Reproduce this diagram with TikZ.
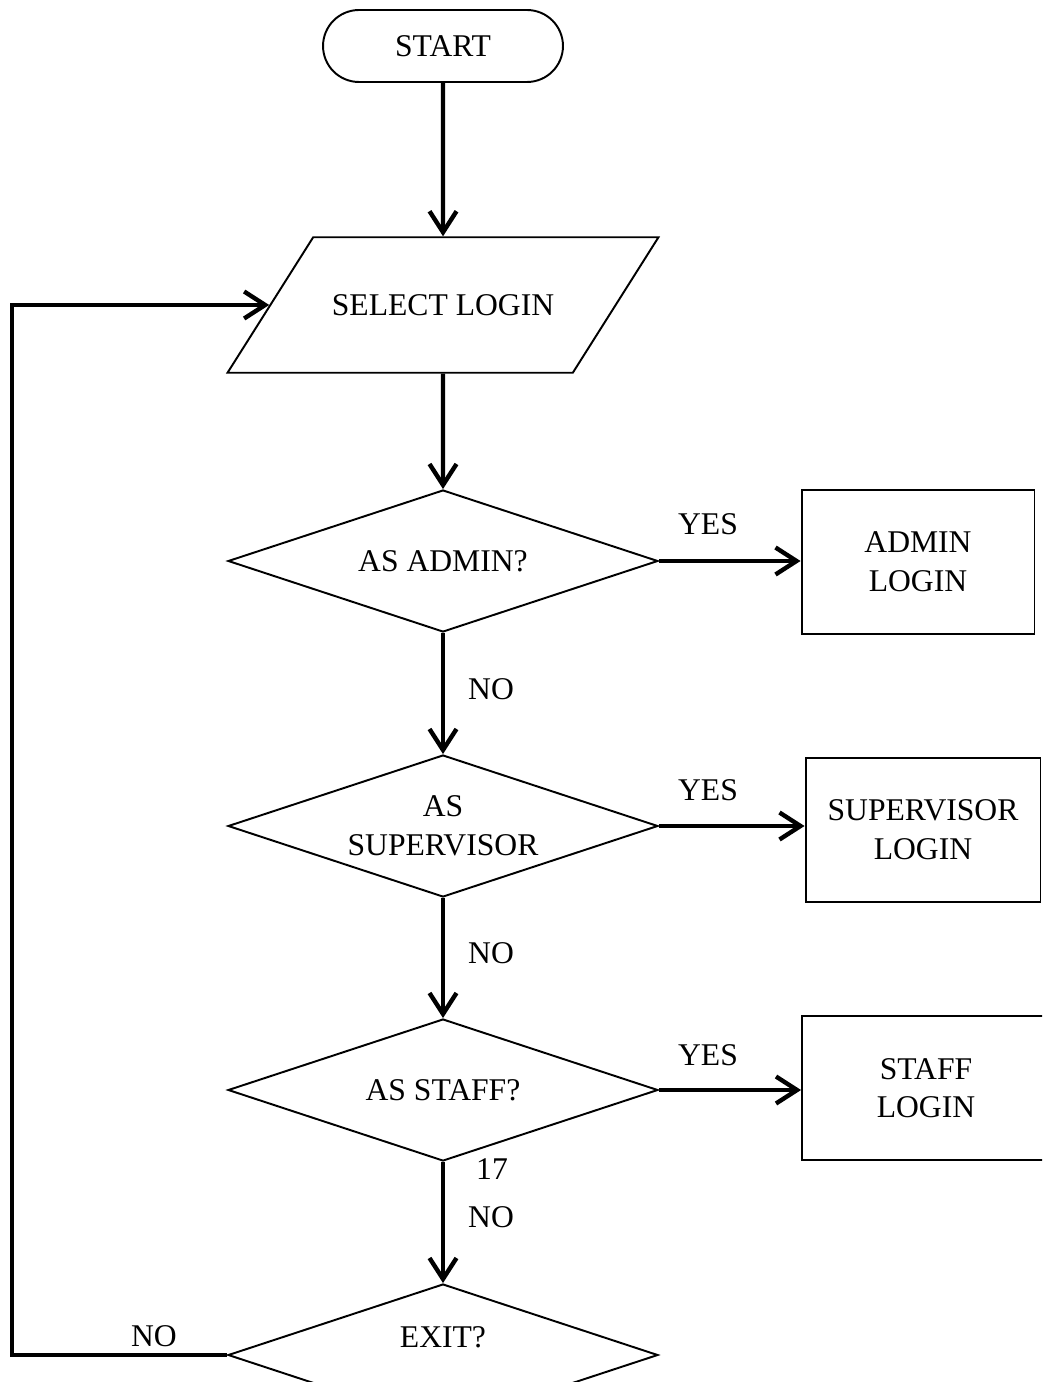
\documentclass[tikz,border=0pt]{standalone}
\usepackage{fontspec}
\setmainfont{Liberation Serif}
\usetikzlibrary{shapes.geometric,arrows.meta}

\begin{document}
\begin{tikzpicture}[x=0.02cm, y=-0.02cm,
      every node/.style={font=\fontsize{18}{22}\selectfont},
      outline/.style={draw=black, line width=1.1pt},
      terminal/.style={outline, rectangle, rounded corners=0.72cm, minimum width=4.8cm, minimum height=1.44cm},
      inout/.style={outline, trapezium, trapezium left angle=57.7, trapezium right angle=122.3, trapezium stretches body, text height=12pt, text depth=0pt, inner ysep=32.55pt, minimum width=8.62cm},
      decision/.style={outline, diamond, aspect=3, inner sep=0pt, minimum width=8.6cm, minimum height=2.84cm, align=center},
      process/.style={outline, rectangle, minimum height=2.88cm, align=center},
      flow/.style={line width=2.5pt, -{Straight Barb[length=0.42cm, width=0.54cm]}},
      tag/.style={inner sep=0pt}
  ]
    \clip (0,0) rectangle (1042,1382);

    \node[terminal] (start) at (443,46) {START};
    \node[inout] (select) at (443,305) {SELECT LOGIN};
    \node[decision] (admin) at (443,561) {AS ADMIN?};
    \node[decision] (super) at (443,826) {AS\\SUPERVISOR};
    \node[decision] (staff) at (443,1090) {AS STAFF?};
    \node[decision, text depth=0.72cm] (exit) at (443,1355) {EXIT?};

    \node[process, minimum width=4.66cm] (adminbox) at (918,562) {ADMIN\\LOGIN};
    \node[process, minimum width=4.7cm] (superbox) at (923,830) {SUPERVISOR\\LOGIN};
    \node[process, minimum width=4.96cm] (staffbox) at (926,1088) {STAFF\\LOGIN};

    \node[tag] (yes1) at (708,524) {YES};
    \node[tag] (yes2) at (708,790) {YES};
    \node[tag] (yes3) at (708,1055) {YES};
    \node[tag] (no1) at (491,689) {NO};
    \node[tag] (no2) at (491,953) {NO};
    \node[tag] (page) at (492,1169) {17};
    \node[tag] (no3) at (491,1217) {NO};
    \node[tag] (no4) at (154,1336) {NO};

    \coordinate (back) at (12,0 |- select.west);

    \draw[flow] (start) -- (select);
    \draw[flow] (select) -- (admin);
    \draw[flow] (admin) -- (super);
    \draw[flow] (super) -- (staff);
    \draw[flow] (staff) -- (exit);
    \draw[flow] (admin.east) -- (admin.east -| adminbox.west);
    \draw[flow] (super.east) -- (super.east -| superbox.west);
    \draw[flow] (staff.east) -- (staff.east -| staffbox.west);
    \draw[flow] (exit.west) -| (back) -- (select.west);
  \end{tikzpicture}
\end{document}
